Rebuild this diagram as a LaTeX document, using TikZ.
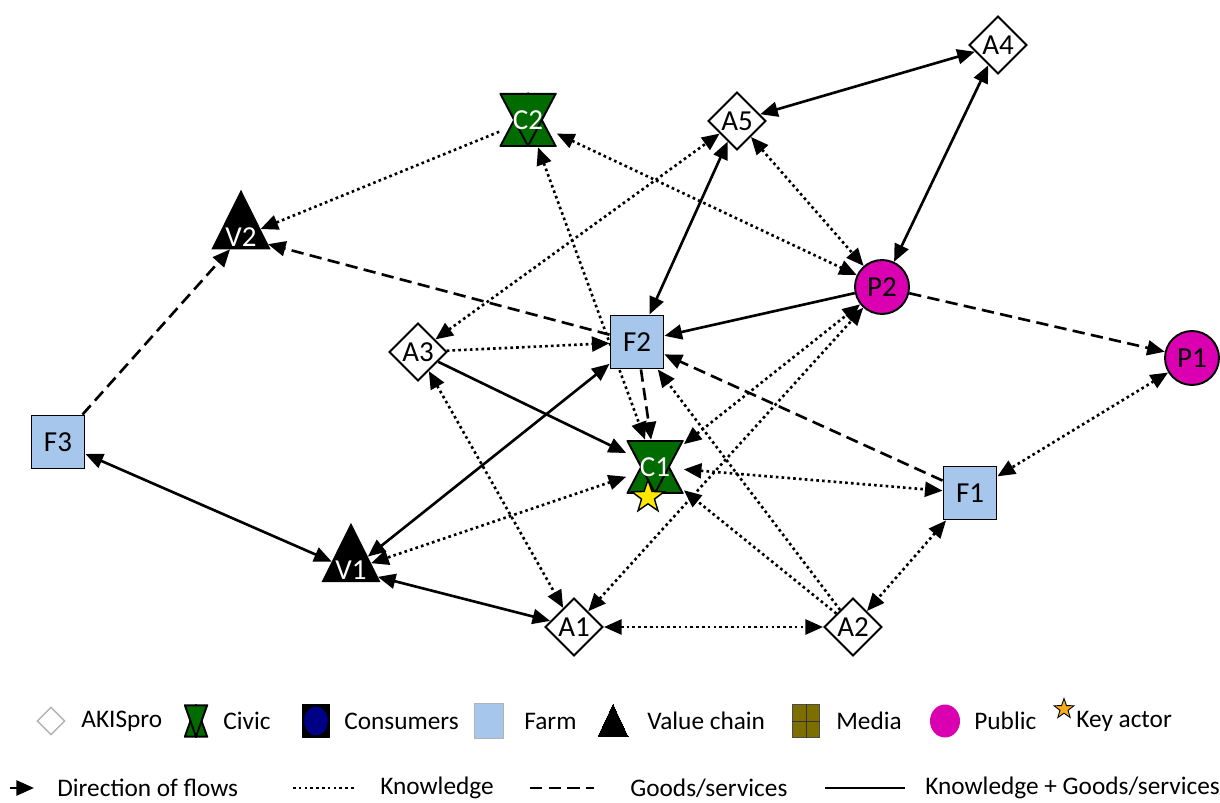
\documentclass[tikz,border=0pt]{standalone}
\usepackage{fontspec}
\setmainfont{Carlito}
\usetikzlibrary{shapes.geometric,arrows.meta}

\definecolor{farmblue}{RGB}{166,198,236}
\definecolor{pubpink}{RGB}{218,0,178}
\definecolor{civicgreen}{RGB}{0,108,0}
\definecolor{staryellow}{RGB}{255,232,0}
\definecolor{keyorange}{RGB}{246,172,30}
\definecolor{mediaolive}{RGB}{125,110,0}
\definecolor{consnavy}{RGB}{0,0,135}

\pgfdeclarelayer{edges}
\pgfsetlayers{edges,main}

\tikzset{
	actor/.style={draw=black, line width=1.1pt, inner sep=0pt, font=\fontsize{16.5}{18}\selectfont},
	akis/.style={actor, diamond, fill=white, minimum size=1.16cm},
	farm/.style={actor, rectangle, fill=farmblue, minimum size=1.06cm},
	public/.style={actor, circle, fill=pubpink, minimum size=1.08cm},
	valuech/.style={actor, isosceles triangle, shape border rotate=90, isosceles triangle stretches,
		fill=black, text=white, minimum width=1.12cm, minimum height=1.12cm},
	civic/.style={inner sep=0pt, rectangle, text=white, font=\fontsize{16.5}{18}\selectfont,
		minimum width=1.14cm, minimum height=1.08cm,
		path picture={
			\filldraw[fill=civicgreen, draw=black, line width=1.1pt]
				([shift={(0.5pt,0.5pt)}]path picture bounding box.south west)
				-- ([shift={(-0.5pt,0.5pt)}]path picture bounding box.south east)
				-- ([yshift=-0.5pt]path picture bounding box.north) -- cycle;
			\filldraw[fill=civicgreen, draw=black, line width=1.1pt]
				([shift={(0.5pt,-0.5pt)}]path picture bounding box.north west)
				-- ([shift={(-0.5pt,-0.5pt)}]path picture bounding box.north east)
				-- ([yshift=0.5pt]path picture bounding box.south) -- cycle;
		}},
	keystar/.style={star, star points=5, star point ratio=2.5, fill=staryellow, draw=black,
		line width=0.8pt, minimum size=0.68cm, inner sep=0pt},
	flow/.style={line width=1.5pt},
	knowflow/.style={flow, dash pattern=on 1.5pt off 1.8pt},
	goodsflow/.style={flow, dash pattern=on 7pt off 3.6pt},
	bothflow/.style={flow},
	legtext/.style={anchor=west, inner sep=0pt, font=\fontsize{14.4}{17}\selectfont},
}

\begin{document}
\begin{tikzpicture}[x=0.02cm, y=-0.02cm, >={Triangle[length=10pt,width=8.5pt]}]
	\useasboundingbox (0,0) rectangle (1220,803);

	% actors
	\node[akis] (A4) at (998,45) {A4};
	\node[akis] (A5) at (737,121) {A5};
	\node[civic] (C2) at (528,120) {C2};
	\node[valuech] (V2) at (241,237) {V2};
	\node[public] (P2) at (882,287) {P2};
	\node[farm] (F2) at (637,342) {F2};
	\node[akis] (A3) at (418,352) {A3};
	\node[public] (P1) at (1192,358) {P1};
	\node[farm] (F3) at (58,442) {F3};
	\node[civic] (C1) at (655,467) {C1};
	\node[keystar] (C1star) at (648,497) {};
	\node[farm] (F1) at (970,493) {F1};
	\node[valuech] (V1) at (351,570) {V1};
	\node[akis] (A1) at (574,627) {A1};
	\node[akis] (A2) at (853,627) {A2};

	% flows
	\begin{pgfonlayer}{edges}
		\draw[bothflow,<->] (A4) -- (A5);
		\draw[bothflow,<->] (A4) -- (P2);
		\draw[bothflow,<->] (A5) -- (F2);
		\draw[knowflow,<->] (A5) -- (P2);
		\draw[knowflow,<->] (A3) -- (A5);
		\draw[knowflow,<->] (C2) -- (P2);
		\draw[knowflow,->] (C2) -- (V2);
		\draw[goodsflow,->] (F2) -- (V2);
		\draw[goodsflow,->] (F3) -- (V2);
		\draw[bothflow,<->] (F3) -- (V1);
		\draw[bothflow,<->] (V1) -- (A1);
		\draw[bothflow,<->] (F2) -- (V1);
		\draw[knowflow,<->] (C1) -- (V1);
		\draw[bothflow,->] (A3) -- (C1);
		\draw[knowflow,->] (A3) -- (F2);
		\draw[knowflow,<->] (A3) -- (A1);
		\draw[knowflow,<->] (C2) -- (C1);
		\draw[goodsflow,->] (F2) -- (C1);
		\draw[bothflow,->] (P2) -- (F2);
		\draw[goodsflow,->] (P2) -- (P1);
		\draw[knowflow,<->] (P1) -- (F1);
		\draw[goodsflow,->] (F1) -- (F2);
		\draw[knowflow,<->] (C1) -- (F1);
		\draw[knowflow,<->] (F1) -- (A2);
		\draw[knowflow,<->] (A1) -- (A2);
		\draw[knowflow,<->] (A1) -- (P2);
		\draw[knowflow,<->] (C1) -- (P2);
		\draw[knowflow,->] (A2) -- (C1);
		\draw[knowflow,->] (A2) -- (F2);
	\end{pgfonlayer}

	% legend: actor types
	\node[diamond, draw=gray!60, line width=0.8pt, minimum size=0.56cm, inner sep=0pt] (akisleg) at (51,721) {};
	\node[legtext] at (81,721) {AKISpro};
	\node[civic, minimum width=0.48cm, minimum height=0.66cm] (civleg) at (196,721) {};
	\node[legtext] at (223,721) {Civic};
	\node[rectangle, fill=black, minimum width=0.56cm, minimum height=0.68cm] (consleg) at (316,721) {};
	\fill[consnavy] (consleg.center) ellipse (0.235cm and 0.29cm);
	\node[legtext] at (344,721) {Consumers};
	\node[rectangle, fill=farmblue, draw=gray!60, minimum width=0.58cm, minimum height=0.7cm] (farmleg) at (489,721) {};
	\node[legtext] at (524,721) {Farm};
	\node[valuech, line width=0pt, minimum width=0.6cm, minimum height=0.64cm] (vcleg) at (613,727) {};
	\node[legtext] at (647,721) {Value chain};
	\node[rectangle, fill=mediaolive, draw=black!70, minimum width=0.54cm, minimum height=0.66cm] (medleg) at (806,721) {};
	\draw[black!80] (medleg.north) -- (medleg.south);
	\draw[black!80] (medleg.west) -- (medleg.east);
	\node[legtext] at (836,721) {Media};
	\node[ellipse, fill=pubpink, minimum width=0.6cm, minimum height=0.66cm] (publeg) at (945,721) {};
	\node[legtext] at (974,721) {Public};
	\node[keystar, fill=keyorange, minimum size=0.42cm, line width=0.5pt] (keyleg) at (1064,709) {};
	\node[legtext] at (1076,721) {Key actor};

	% legend: flow types
	\coordinate (dirA) at (10,788);
	\coordinate (dirB) at (34,788);
	\draw[bothflow,->] (dirA) -- (dirB);
	\node[legtext] at (57,788) {Direction of flows};
	\coordinate (knowA) at (293,788);
	\coordinate (knowB) at (354,788);
	\draw[knowflow] (knowA) -- (knowB);
	\node[legtext] at (380,788) {Knowledge};
	\coordinate (goodsA) at (530,788);
	\coordinate (goodsB) at (594,788);
	\draw[goodsflow] (goodsA) -- (goodsB);
	\node[legtext] at (630,788) {Goods/services};
	\coordinate (bothA) at (825,788);
	\coordinate (bothB) at (905,788);
	\draw[bothflow] (bothA) -- (bothB);
	\node[legtext] at (925,788) {Knowledge + Goods/services};
\end{tikzpicture}
\end{document}
